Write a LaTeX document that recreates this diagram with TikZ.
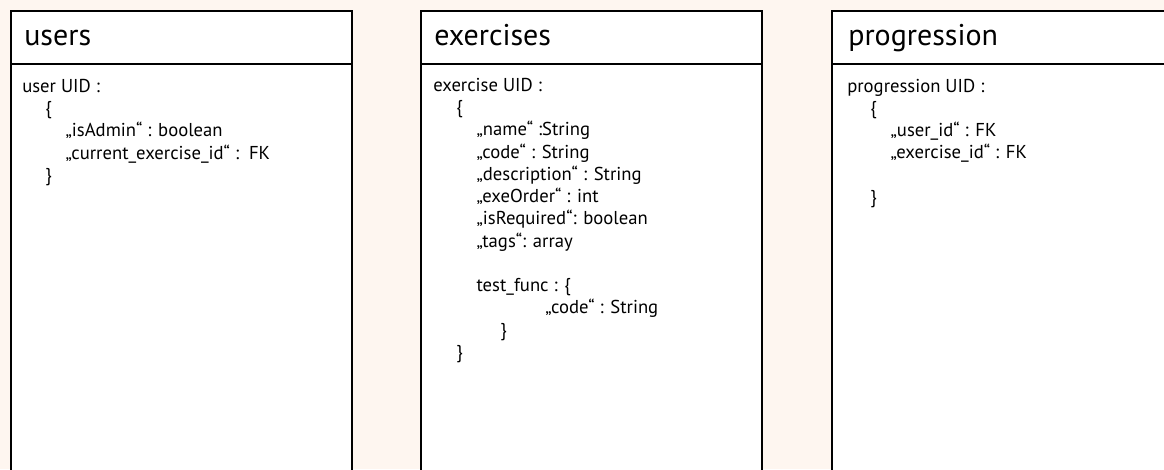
\documentclass[tikz,border=0pt]{standalone}
\usepackage{fontspec}
\setmainfont{PT Sans}

\definecolor{papier}{RGB}{254,246,240}
\tikzset{
  tabelle/.style={draw=black, fill=white, line width=1.5pt},
  kopf/.style={anchor=base west, inner sep=0pt, font=\fontsize{22.5}{27}\selectfont},
  inhalt/.style={anchor=base west, inner sep=0pt, align=left, font=\fontsize{14}{16.7}\selectfont},
}
\newcommand{\ebeneA}{\hspace*{17.25pt}}
\newcommand{\ebeneB}{\hspace*{32.5pt}}

\begin{document}
\begin{tikzpicture}[x=0.75pt, y=-0.75pt]
% 背景
\path[use as bounding box, fill=papier] (0,0) rectangle (1164,469);
\begin{scope}
\clip (0,0) rectangle (1164,469);
% 三张表的外框和表头分隔线
\foreach \links in {11, 421, 832}{
  \draw[tabelle] (\links,11) rectangle ++(341,480);
  \draw[tabelle] (\links,64) -- ++(341,0);
}
\end{scope}

% 表名
\node[kopf] (usersTitel) at (24,45) {users};
\node[kopf] (exercisesTitel) at (434,45) {exercises};
\node[kopf] (progressionTitel) at (848,45) {progression};

% 表内容(锚点是最后一行的基线)
\node[inhalt] (usersFelder) at (22,181.5) {user UID :\\
  \ebeneA\{\\
  \ebeneB„isAdmin“ : boolean\\
  \ebeneB„current\_exercise\_id“ :\ \ FK\\
  \ebeneA\}};
\node[inhalt] (exercisesFelder) at (433,358.5) {exercise UID :\\
  \ebeneA\{\\
  \ebeneB„name“ :String\\
  \ebeneB„code“ : String\\
  \ebeneB„description“ : String\\
  \ebeneB„exeOrder“ : int\\
  \ebeneB„isRequired“: boolean\\
  \ebeneB„tags“: array\\[16.7pt]
  \ebeneB test\_func : \{\\
  \hspace*{84pt}„code“ : String\\
  \hspace*{50.25pt}\}\\
  \ebeneA\}};
\node[inhalt] (progressionFelder) at (847,203.5) {progression UID :\\
  \ebeneA\{\\
  \ebeneB„user\_id“ : FK\\
  \ebeneB„exercise\_id“ : FK\\[16.7pt]
  \ebeneA\}};
\end{tikzpicture}
\end{document}
